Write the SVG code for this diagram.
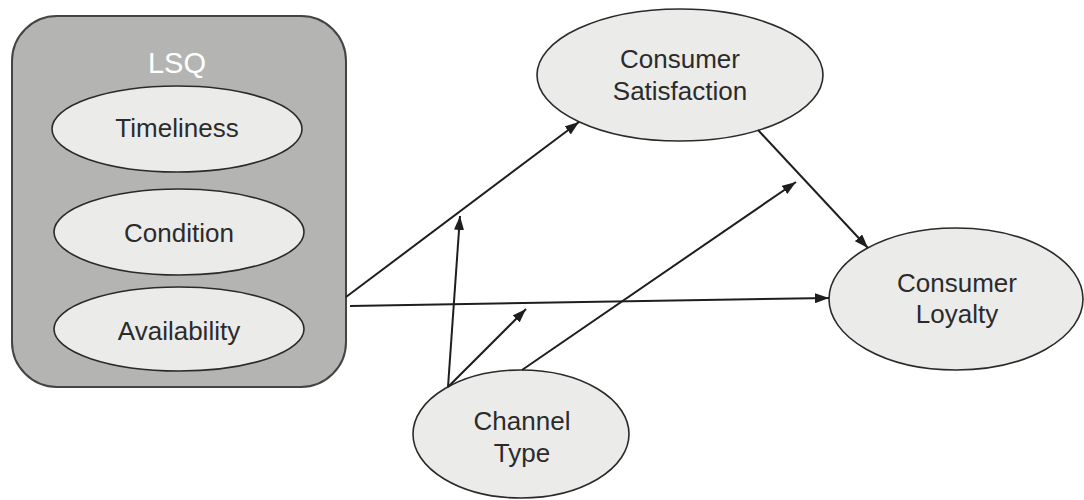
<svg xmlns="http://www.w3.org/2000/svg" width="1084" height="500" viewBox="0 0 1084 500">
  <style>
    .node ellipse { fill: #ebebea; stroke: #2a2a2a; stroke-width: 1.6; }
    .lbl { font-family: "Liberation Sans", Arial, sans-serif; font-size: 26px; fill: #2b2b2b; text-anchor: middle; }
    .edge { stroke: #1e1e1e; stroke-width: 2; fill: none; marker-end: url(#arr); }
  </style>
  <defs>
    <marker id="arr" viewBox="0 0 14 10" refX="14" refY="5" markerWidth="14" markerHeight="10" markerUnits="userSpaceOnUse" orient="auto">
      <path d="M0,0 L14,5 L0,10 Z" fill="#1e1e1e"/>
    </marker>
  </defs>

  <g id="lsq">
    <rect x="12" y="16" width="334" height="371" rx="45" ry="45" fill="#b4b5b3" stroke="#444444" stroke-width="2"/>
    <text x="177" y="73" font-family="Liberation Sans, Arial, sans-serif" font-size="29" fill="#ffffff" text-anchor="middle">LSQ</text>
  </g>
  <g id="timeliness" class="node">
    <ellipse cx="177" cy="129" rx="125" ry="43"/>
    <text class="lbl" x="177" y="137">Timeliness</text>
  </g>
  <g id="condition" class="node">
    <ellipse cx="179" cy="232" rx="125" ry="43"/>
    <text class="lbl" x="179" y="242">Condition</text>
  </g>
  <g id="availability" class="node">
    <ellipse cx="179" cy="329" rx="125" ry="42"/>
    <text class="lbl" x="179" y="340">Availability</text>
  </g>
  <g id="satisfaction" class="node">
    <ellipse cx="680" cy="75" rx="143" ry="66"/>
    <text class="lbl" x="680" y="68">Consumer</text>
    <text class="lbl" x="680" y="100">Satisfaction</text>
  </g>
  <g id="loyalty" class="node">
    <ellipse cx="956" cy="299" rx="127" ry="71"/>
    <text class="lbl" x="957" y="292">Consumer</text>
    <text class="lbl" x="957" y="323">Loyalty</text>
  </g>
  <g id="channel" class="node">
    <ellipse cx="521" cy="434" rx="108" ry="64"/>
    <text class="lbl" x="522" y="430">Channel</text>
    <text class="lbl" x="522" y="462">Type</text>
  </g>

  <g id="connectors">
    <line class="edge" x1="346" y1="297" x2="579" y2="122"/>
    <line class="edge" x1="350" y1="306" x2="829" y2="298"/>
    <line class="edge" x1="448" y1="387" x2="460" y2="216"/>
    <line class="edge" x1="448" y1="387" x2="526" y2="309"/>
    <line class="edge" x1="522" y1="370" x2="796" y2="182"/>
    <line class="edge" x1="758" y1="130" x2="868" y2="248"/>
  </g>
</svg>
